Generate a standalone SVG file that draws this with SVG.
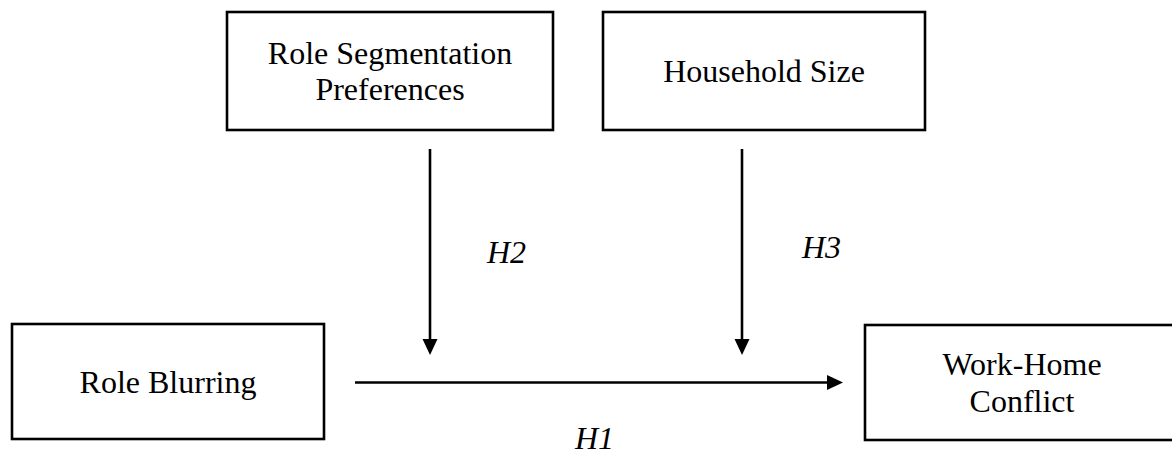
<svg xmlns="http://www.w3.org/2000/svg" width="1172" height="457" viewBox="0 0 1172 457">
<style>
.box{fill:#fff;stroke:#000;stroke-width:2.6}
.lbl{font-family:"Liberation Serif","Times New Roman",serif;font-size:32px;fill:#000;text-anchor:middle}
.hyp{font-family:"Liberation Serif","Times New Roman",serif;font-size:32px;font-style:italic;fill:#000}
.conn{stroke:#000;stroke-width:2.6;fill:none;marker-end:url(#arr)}
</style>
<defs>
<marker id="arr" markerUnits="userSpaceOnUse" markerWidth="16" markerHeight="16" refX="6" refY="7.5" orient="auto" viewBox="0 0 16 15">
<path d="M0,0 L16,7.5 L0,15 z" fill="#000"/>
</marker>
</defs>
<rect width="1172" height="457" fill="#fff"/>
<g id="role-segmentation">
<rect class="box" x="227" y="12" width="326" height="118"/>
<text class="lbl" x="390" y="64">Role Segmentation</text>
<text class="lbl" x="390" y="100">Preferences</text>
</g>
<g id="household-size">
<rect class="box" x="603" y="12" width="322" height="118"/>
<text class="lbl" x="764" y="82">Household Size</text>
</g>
<g id="role-blurring">
<rect class="box" x="12" y="324" width="312" height="115"/>
<text class="lbl" x="168" y="393">Role Blurring</text>
</g>
<g id="work-home-conflict">
<rect class="box" x="865" y="325" width="320" height="115"/>
<text class="lbl" x="1022" y="375">Work-Home</text>
<text class="lbl" x="1022" y="412">Conflict</text>
</g>
<g id="connectors">
<line class="conn" x1="355" y1="382.5" x2="833" y2="382.5"/>
<line class="conn" x1="430" y1="149" x2="430" y2="345"/>
<line class="conn" x1="742" y1="149" x2="742" y2="345"/>
<text class="hyp" x="575" y="449">H1</text>
<text class="hyp" x="487" y="263">H2</text>
<text class="hyp" x="802" y="258">H3</text>
</g>
</svg>
